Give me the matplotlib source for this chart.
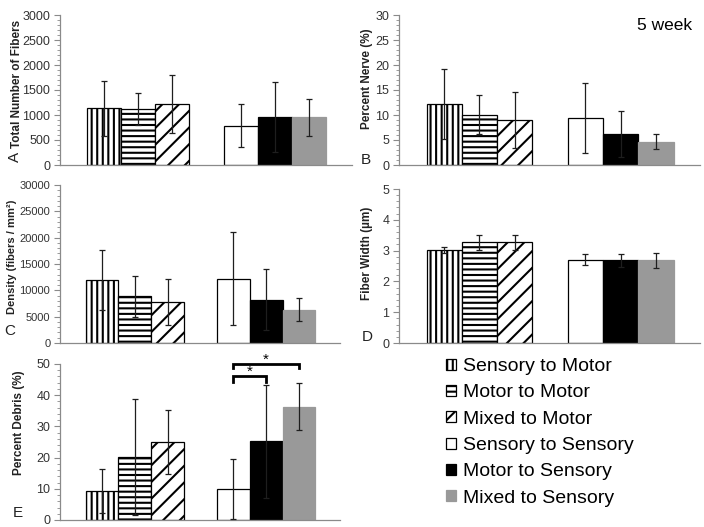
import numpy as np
import matplotlib
matplotlib.use("Agg")
import matplotlib.pyplot as plt
from matplotlib.ticker import MultipleLocator

plt.rcParams['font.family'] = ['Liberation Sans', 'DejaVu Sans']
plt.rcParams['hatch.linewidth'] = 1.5

# groups (legend order)
groups = ['Sensory to Motor', 'Motor to Motor', 'Mixed to Motor',
          'Sensory to Sensory', 'Motor to Sensory', 'Mixed to Sensory']

# values (mean, sd)
fibers_mean = [1133, 1123, 1220, 790, 953, 953]
fibers_sd = [555, 323, 587, 423, 700, 373]
nerve_mean = [12.3, 10.1, 9.1, 9.5, 6.3, 4.7]
nerve_sd = [7.0, 3.9, 5.6, 7.0, 4.6, 1.5]
density_mean = [11900, 8900, 7800, 12200, 8200, 6300]
density_sd = [5700, 3900, 4350, 8800, 5800, 2150]
width_mean = [3.02, 3.27, 3.27, 2.70, 2.68, 2.68]
width_sd = [0.10, 0.25, 0.24, 0.18, 0.20, 0.25]
debris_mean = [9.3, 20.3, 25.0, 10.0, 25.2, 36.3]
debris_sd = [7.2, 18.6, 10.3, 9.6, 18.1, 7.6]

# significance brackets in panel E: (bar a, bar b, bracket height, tick bottom)
sig_pairs = [(3, 4, 46.2, 44.3), (3, 5, 50.0, 48.6)]

xpos = [0, 1, 2, 4, 5, 6]
faces = ['white', 'white', 'white', 'white', 'black', '#999999']
edges = ['black', 'black', 'black', 'black', 'black', '#999999']
hatches = ['|||', '---', '//', None, None, None]

W, H = 704, 527
fig = plt.figure(figsize=(W / 100, H / 100), dpi=100)


def px_axes(left, top, right, bottom):
    return fig.add_axes([left / W, 1 - bottom / H, (right - left) / W, (bottom - top) / H])


def panel(ax, means, sds, ymax, major, minor, tsize=9):
    bars = []
    for i in range(6):
        b = ax.bar(xpos[i], means[i], width=1.0, color=faces[i], edgecolor=edges[i],
                   hatch=hatches[i], linewidth=0.9, label=groups[i], zorder=2)
        bars.append(b)
    ax.errorbar(xpos, means, yerr=sds, fmt='none', ecolor='#1e1e1e',
                elinewidth=0.9, capsize=2.5, capthick=0.9, zorder=3)
    ax.set_xlim(-1.28, 7.25)
    ax.set_ylim(0, ymax)
    ax.yaxis.set_major_locator(MultipleLocator(major))
    ax.yaxis.set_minor_locator(MultipleLocator(minor))
    ax.set_xticks([])
    for s in ['top', 'right']:
        ax.spines[s].set_visible(False)
    for s in ['left', 'bottom']:
        ax.spines[s].set_color('#8a8a8a')
        ax.spines[s].set_linewidth(0.9)
    ax.tick_params(axis='y', which='major', length=4, color='#8a8a8a',
                   labelsize=tsize, labelcolor='#333333', pad=3)
    ax.tick_params(axis='y', which='minor', length=2, color='#8a8a8a')
    return bars


axA = px_axes(60, 15, 352, 165)
panel(axA, fibers_mean, fibers_sd, 3000, 500, 100)
axB = px_axes(399, 15, 700, 165)
panel(axB, nerve_mean, nerve_sd, 30, 5, 1)
axC = px_axes(60, 185, 340, 343)
panel(axC, density_mean, density_sd, 30000, 5000, 1000, tsize=8)
axD = px_axes(399, 189, 700, 343)
panel(axD, width_mean, width_sd, 5, 1, 0.2)
axE = px_axes(60, 364, 340, 520)
bars = panel(axE, debris_mean, debris_sd, 50, 10, 2)

for a, b, top, low in sig_pairs:
    xa, xb = xpos[a], xpos[b]
    axE.plot([xa, xa, xb, xb], [low, top, top, low], color='black', lw=2,
             solid_joinstyle='miter', clip_on=False, zorder=4)
    xs = (xa + xb) / 2 if b - a == 1 else xpos[a + 1]
    axE.text(xs, top + 1.2, '*', ha='center', va='center', fontsize=11, clip_on=False)

# y labels
lab = dict(rotation=90, ha='center', va='center', fontweight='bold', color='#222222')
fig.text(17 / W, 1 - 84 / H, 'Total Number of Fibers', fontsize=8.5, **lab)
fig.text(367 / W, 1 - 79 / H, 'Percent Nerve (%)', fontsize=8.5, **lab)
fig.text(12 / W, 1 - 257 / H, 'Density (fibers / mm²)', fontsize=8, **lab)
fig.text(367 / W, 1 - 253 / H, 'Fiber Width (µm)', fontsize=8.5, **lab)
fig.text(19 / W, 1 - 423 / H, 'Percent Debris (%)', fontsize=8.5, **lab)

# panel letters
let = dict(ha='center', va='center', fontsize=11, color='#222222')
fig.text(15 / W, 1 - 157 / H, 'A', rotation=90, **let)
fig.text(366 / W, 1 - 160 / H, 'B', **let)
fig.text(10 / W, 1 - 331 / H, 'C', **let)
fig.text(367 / W, 1 - 337 / H, 'D', **let)
fig.text(18 / W, 1 - 513 / H, 'E', **let)

fig.text(665 / W, 1 - 25 / H, '5 week', ha='center', va='center', fontsize=12.5)

fig.legend(handles=[b[0] for b in bars], labels=groups, loc='upper left',
           bbox_to_anchor=(446 / W, 1 - 358 / H), frameon=False, fontsize=14,
           handlelength=0.5, handleheight=0.5, handletextpad=0.35,
           labelspacing=0.48, borderpad=0, borderaxespad=0)

fig.savefig('out.png', dpi=100)
